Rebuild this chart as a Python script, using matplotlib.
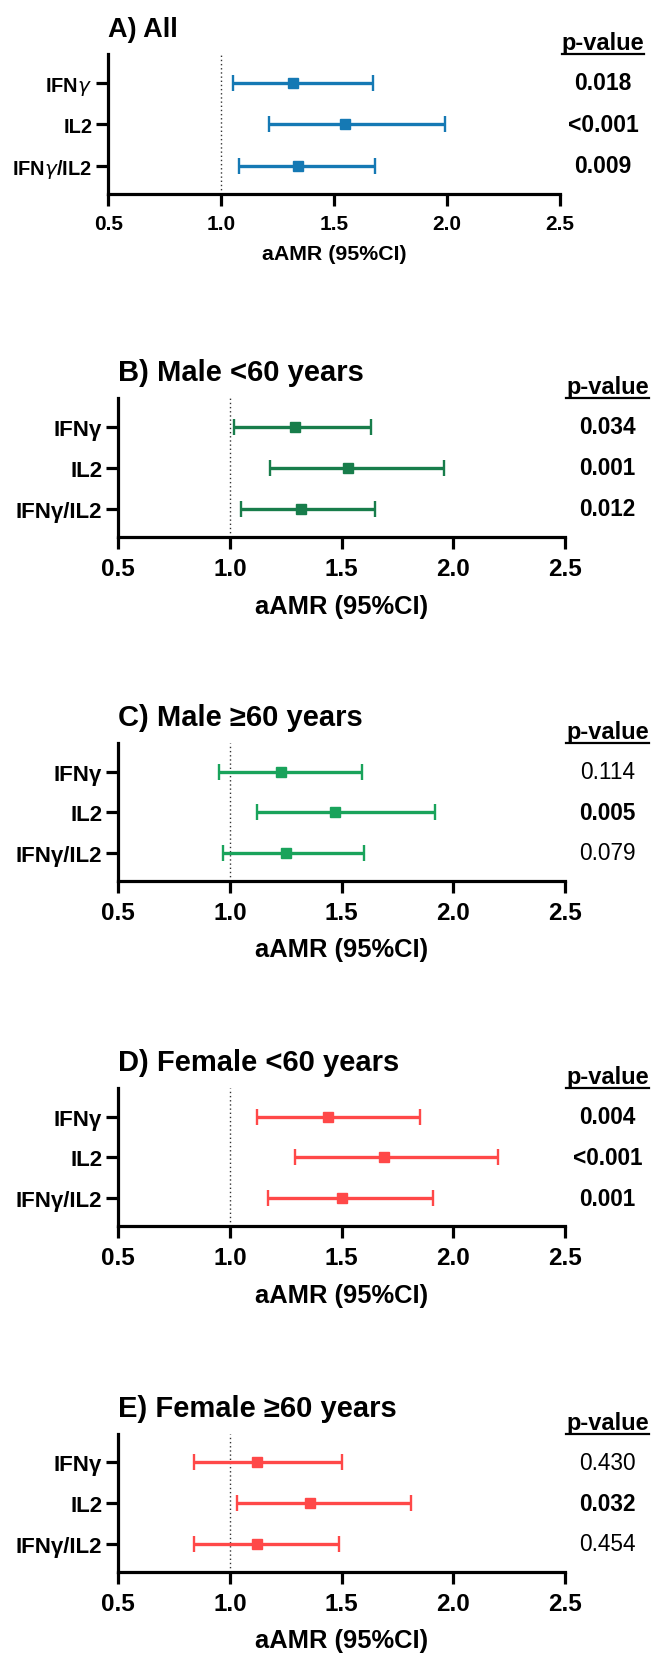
import matplotlib
matplotlib.use('Agg')
import matplotlib.pyplot as plt
from matplotlib.lines import Line2D
from matplotlib.ticker import FormatStrFormatter
import matplotlib.transforms as mtransforms

plt.rcParams['font.family'] = ['Liberation Sans', 'DejaVu Sans']
plt.rcParams['mathtext.fontset'] = 'dejavusans'

# ---------------- data ----------------
categories = ['IFNγ', 'IL2', 'IFNγ/IL2']
categories_a = ['IFN$\\gamma$', 'IL2', 'IFN$\\gamma$/IL2']
panel_titles = ['A) All', 'B) Male <60 years', 'C) Male ≥60 years',
                'D) Female <60 years', 'E) Female ≥60 years']

amr_all = [1.32, 1.55, 1.34]
lo_all = [1.05, 1.21, 1.08]
hi_all = [1.67, 1.99, 1.68]
p_all = ['0.018', '<0.001', '0.009']

amr_male_lt60 = [1.29, 1.53, 1.32]
lo_male_lt60 = [1.02, 1.18, 1.05]
hi_male_lt60 = [1.63, 1.96, 1.65]
p_male_lt60 = ['0.034', '0.001', '0.012']

amr_male_ge60 = [1.23, 1.47, 1.25]
lo_male_ge60 = [0.95, 1.12, 0.97]
hi_male_ge60 = [1.59, 1.92, 1.60]
p_male_ge60 = ['0.114', '0.005', '0.079']

amr_female_lt60 = [1.44, 1.69, 1.50]
lo_female_lt60 = [1.12, 1.29, 1.17]
hi_female_lt60 = [1.85, 2.20, 1.91]
p_female_lt60 = ['0.004', '<0.001', '0.001']

amr_female_ge60 = [1.12, 1.36, 1.12]
lo_female_ge60 = [0.84, 1.03, 0.84]
hi_female_ge60 = [1.50, 1.81, 1.49]
p_female_ge60 = ['0.430', '0.032', '0.454']

x_ticks = [0.5, 1.0, 1.5, 2.0, 2.5]
x_label = 'aAMR (95%CI)'
ref_line = 1.0

panels = [
    (amr_all, lo_all, hi_all, p_all),
    (amr_male_lt60, lo_male_lt60, hi_male_lt60, p_male_lt60),
    (amr_male_ge60, lo_male_ge60, hi_male_ge60, p_male_ge60),
    (amr_female_lt60, lo_female_lt60, hi_female_lt60, p_female_lt60),
    (amr_female_ge60, lo_female_ge60, hi_female_ge60, p_female_ge60),
]

# ---------------- style / layout ----------------
colors = ['#1579b4', '#187d4b', '#19a35b', '#ff4848', '#ff4848']
W, H = 651, 1656
# (left, right, top, bottom) in pixels
rects = [
    (108.3, 560.0, 55.0, 195.0),
    (118.3, 565.0, 399.0, 538.3),
    (118.3, 565.0, 744.3, 881.7),
    (118.3, 565.0, 1089.0, 1227.3),
    (118.3, 565.0, 1435.0, 1572.7),
]
small = dict(title=19.5, ytick=14.4, xtick=15.0, xlabel=15.4, pval=16.5,
             header=17.0, pval_x=603 / W, xlabelpad=8)
large = dict(title=21.0, ytick=16.0, xtick=17.5, xlabel=18.4, pval=16.3,
             header=17.0, pval_x=607.5 / W, xlabelpad=9.5)
styles = [small, large, large, large, large]

fig = plt.figure(figsize=(W / 100, H / 100), dpi=100)
headers = []

for i, (vals, lo, hi, pv) in enumerate(panels):
    l, r, t, b = rects[i]
    st = styles[i]
    ax = fig.add_axes([l / W, 1 - b / H, (r - l) / W, (b - t) / H])
    y = list(range(1, len(categories) + 1))
    xerr = [[v - a for v, a in zip(vals, lo)], [c - v for v, c in zip(vals, hi)]]
    ax.errorbar(vals, y, xerr=xerr, fmt='s', color=colors[i], ecolor=colors[i],
                elinewidth=2.4, capsize=6, capthick=1.7, markersize=7.4,
                zorder=3)
    ax.axvline(ref_line, color='#333333', lw=1.0, ls=(0, (1, 2)), zorder=1)
    ax.set_xlim(x_ticks[0], x_ticks[-1])
    ax.set_ylim(len(categories) + 0.69, 0.3)
    ax.set_xticks(x_ticks)
    ax.xaxis.set_major_formatter(FormatStrFormatter('%.1f'))
    ax.set_yticks(y)
    ax.set_yticklabels(categories_a if i == 0 else categories)
    for s in ['top', 'right']:
        ax.spines[s].set_visible(False)
    for s in ['left', 'bottom']:
        ax.spines[s].set_linewidth(2.3)
    ax.tick_params(axis='x', length=8.5, width=2.3, pad=6,
                   labelsize=st['xtick'])
    ax.tick_params(axis='y', length=8.6, width=2.3, pad=3,
                   labelsize=st['ytick'])
    for lab in ax.get_xticklabels() + ax.get_yticklabels():
        lab.set_fontweight('bold')
    ax.set_xlabel(x_label, fontsize=st['xlabel'], fontweight='bold',
                  labelpad=st['xlabelpad'])
    ax.annotate(panel_titles[i], xy=(0, 1), xycoords='axes fraction',
                xytext=(0, 13), textcoords='offset points', ha='left',
                va='baseline', fontsize=st['title'], fontweight='bold')
    tr = mtransforms.blended_transform_factory(fig.transFigure, ax.transData)
    for yy, p in zip(y, pv):
        bold = p.startswith('<') or float(p) < 0.05
        ax.text(st['pval_x'], yy, p, transform=tr, ha='center', va='center',
                fontsize=st['pval'], fontweight='bold' if bold else 'normal',
                clip_on=False)
    trh = mtransforms.blended_transform_factory(fig.transFigure, ax.transAxes)
    h = ax.annotate('p-value', xy=(st['pval_x'], 1), xycoords=trh,
                    xytext=(0, 3.6), textcoords='offset points',
                    ha='center', va='baseline', fontsize=st['header'],
                    fontweight='bold')
    headers.append((h, ax))

fig.canvas.draw()
renderer = fig.canvas.get_renderer()
for h, ax in headers:
    bb = h.get_window_extent(renderer).transformed(fig.transFigure.inverted())
    ytop = ax.get_position().y1
    fig.add_artist(Line2D([bb.x0, bb.x1], [ytop, ytop], color='black',
                          lw=1.6, transform=fig.transFigure))

fig.savefig('out.png', dpi=100, facecolor='white')
